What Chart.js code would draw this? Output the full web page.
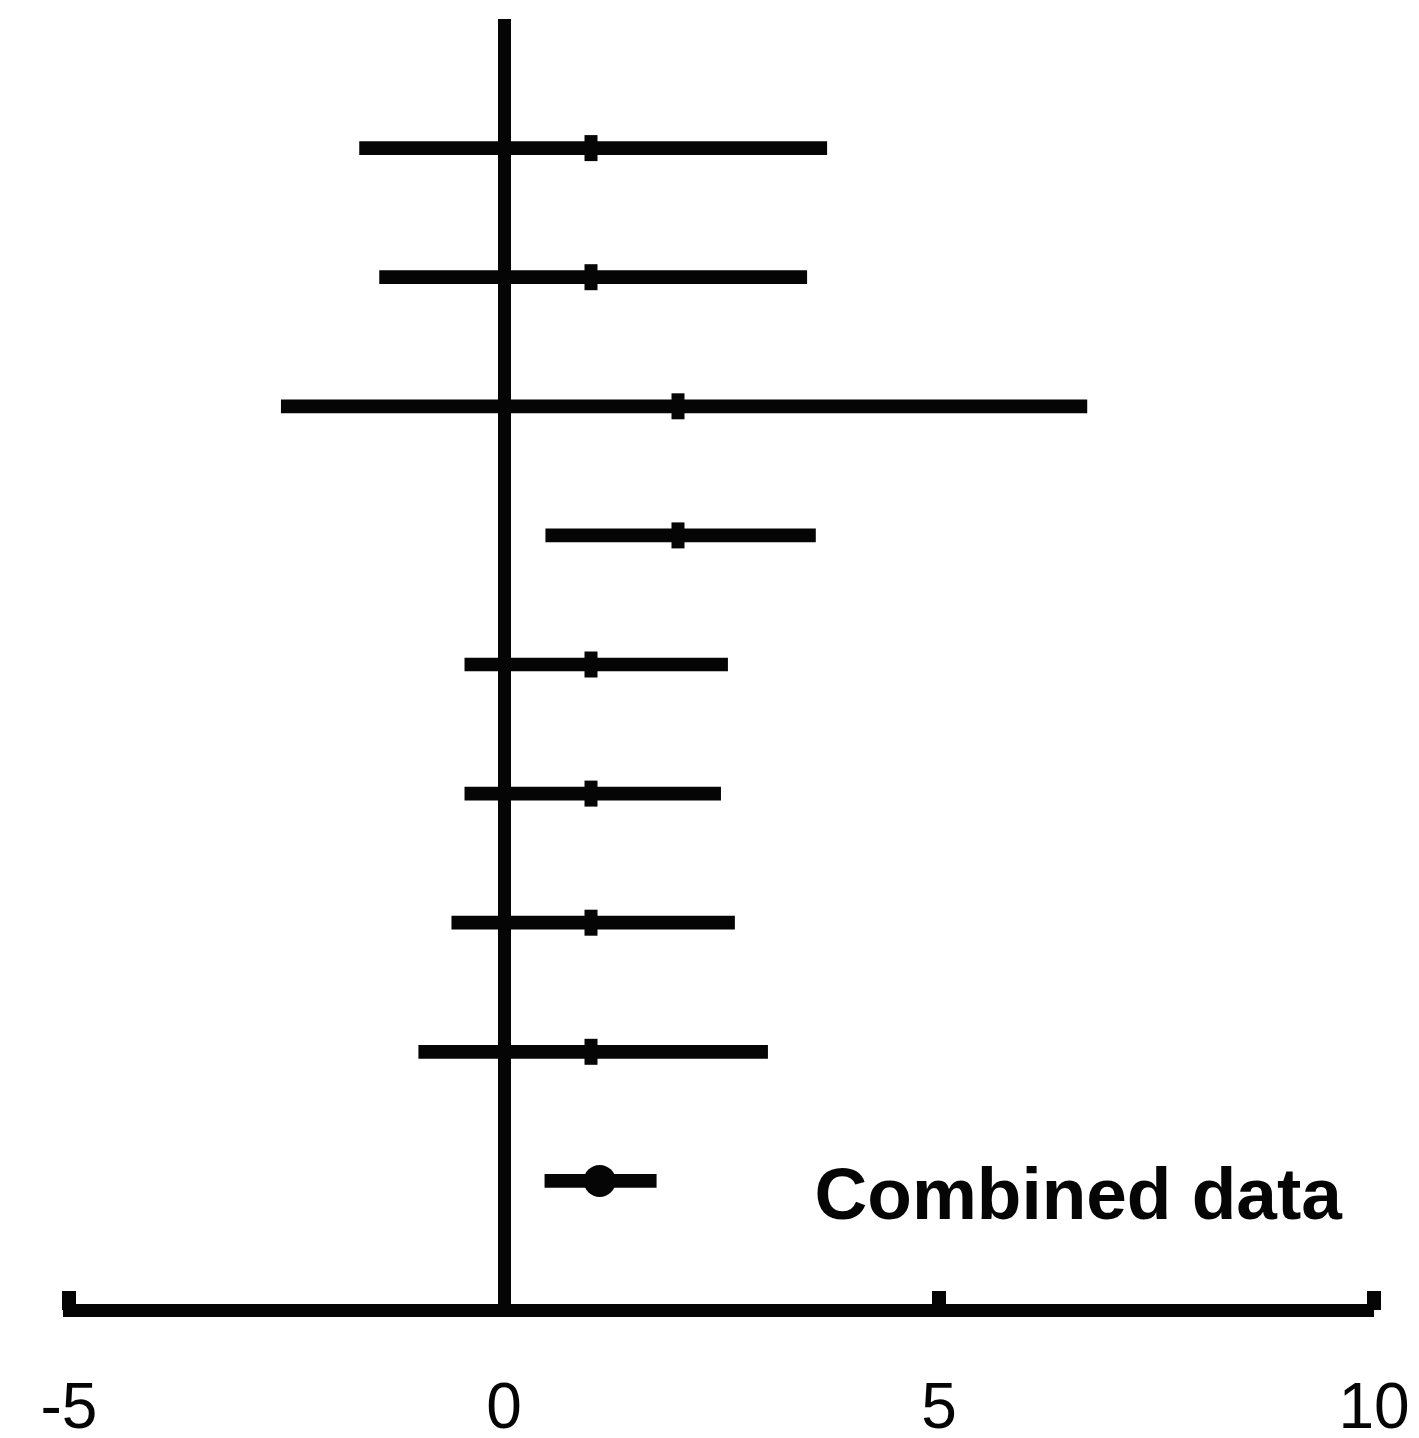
<!DOCTYPE html>
<html>
<head>
<meta charset="utf-8">
<script src="https://cdn.jsdelivr.net/npm/chart.js@4"></script>
<style>
  html, body { margin: 0; padding: 0; background: #fff; }
  .wrap { width: 1419px; height: 1438px; }
</style>
</head>
<body>
<div class="wrap"><canvas id="forest"></canvas></div>
<script>
// forest plot data, one entry per row from top to bottom
const rowNames = ['', '', '', '', '', '', '', '', 'Combined data'];
const estimates = [1.0, 1.0, 2.0, 2.0, 1.0, 1.0, 1.0, 1.0, 1.1];
const lowerCI = [-1.66, -1.43, -2.56, 0.48, -0.45, -0.45, -0.6, -0.98, 0.47];
const upperCI = [3.71, 3.48, 6.70, 3.58, 2.57, 2.49, 2.65, 3.03, 1.75];
const xTicks = [-5, 0, 5, 10];

const ink = '#050505';
const lastRow = estimates.length - 1;

// short tick marks pointing up from the axis + the row notes
const extras = {
  id: 'extras',
  afterDatasetsDraw(chart) {
    const { ctx, chartArea, scales } = chart;
    ctx.save();
    ctx.fillStyle = ink;
    xTicks.forEach(v => {
      if (v === 0) return;
      const x = scales.x.getPixelForValue(v);
      ctx.fillRect(x - 7, chartArea.bottom - 19, 14, 19);
    });
    ctx.font = 'bold 73px "Liberation Sans", Arial, sans-serif';
    ctx.textBaseline = 'middle';
    ctx.textAlign = 'left';
    rowNames.forEach((name, i) => {
      if (!name) return;
      const y = scales.y.getPixelForValue(i + 1);
      ctx.fillText(name, scales.x.getPixelForValue(3.57), y + 18);
    });
    ctx.restore();
  }
};

new Chart(document.getElementById('forest'), {
  type: 'bar',
  data: {
    datasets: [{
      type: 'scatter',
      data: estimates.map((v, i) => ({ x: v, y: i + 1 })),
      pointStyle: ctx => ctx.dataIndex === lastRow ? 'circle' : 'line',
      rotation: 90,
      radius: ctx => ctx.dataIndex === lastRow ? 16 : 13,
      borderWidth: ctx => ctx.dataIndex === lastRow ? 0 : 13,
      borderColor: ink,
      backgroundColor: ink
    }, {
      data: lowerCI.map((lo, i) => ({ x: [lo, upperCI[i]], y: i + 1 })),
      backgroundColor: ink,
      borderWidth: 0,
      barThickness: 13
    }]
  },
  options: {
    indexAxis: 'y',
    responsive: true,
    maintainAspectRatio: false,
    animation: false,
    layout: { autoPadding: false, padding: { left: 69, right: 45, top: 19, bottom: 0 } },
    plugins: { legend: { display: false }, tooltip: { enabled: false } },
    scales: {
      x: {
        type: 'linear',
        min: -5,
        max: 10,
        afterBuildTicks: axis => { axis.ticks = xTicks.map(v => ({ value: v })); },
        afterFit: axis => {
          axis.height = 128;
          axis.paddingLeft = 0;
          axis.paddingRight = 0;
        },
        grid: {
          drawTicks: false,
          color: ctx => ctx.tick && ctx.tick.value === 0 ? ink : 'rgba(0,0,0,0)',
          lineWidth: ctx => ctx.tick && ctx.tick.value === 0 ? 13 : 0
        },
        border: { display: true, color: ink, width: 13 },
        ticks: {
          color: ink,
          padding: 75,
          maxRotation: 0,
          font: { family: '"Liberation Sans", Arial, sans-serif', size: 64, lineHeight: 0.8 }
        }
      },
      y: {
        type: 'linear',
        min: 0,
        max: 10,
        reverse: true,
        offset: false,
        display: false
      }
    }
  },
  plugins: [extras]
});
</script>
</body>
</html>
